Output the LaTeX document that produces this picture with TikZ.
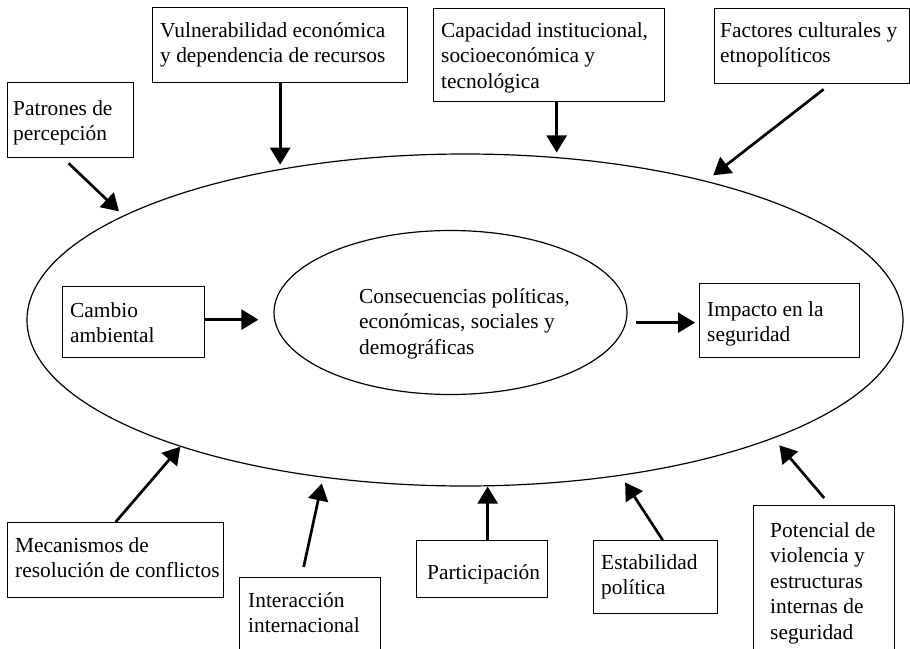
\documentclass[tikz,border=0pt]{standalone}
\usepackage{fontspec}
\setmainfont{Liberation Serif}
\usetikzlibrary{arrows.meta,shapes.geometric}
\begin{document}
\begin{tikzpicture}[x=1pt,y=-1pt,
  boxst/.style={draw, line width=1.3pt, rectangle, anchor=north west, inner sep=0pt},
  txt/.style={anchor=north west, inner sep=0pt, align=left, font=\fontsize{21.4pt}{25.5pt}\selectfont},
  arr/.style={line width=2.7pt, -{Triangle[length=17pt,width=20pt]}},
  ring/.style={draw, ellipse, line width=1.2pt, inner sep=0pt}]
\useasboundingbox (0,0) rectangle (910,648);
\clip (0,0) rectangle (910,648);

% ellipses
\node[ring, minimum width=876pt, minimum height=332pt] (outer) at (465,320) {};
\node[ring, minimum width=353pt, minimum height=164pt] (inner) at (450.5,312.5) {};
\node[txt] (innertext) at (359,285) {\rule{0pt}{18pt}Consecuencias políticas,\\económicas, sociales y\\demográficas};

% boxes
\node[boxst, minimum width=126pt, minimum height=75pt] (pat) at (7,82) {};
\node[txt] at ([shift={(6,15)}]pat.north west) {\rule{0pt}{18pt}Patrones de\\percepción};

\node[boxst, minimum width=255pt, minimum height=75pt] (vuln) at (152,7) {};
\node[txt] at ([shift={(8,12)}]vuln.north west) {\rule{0pt}{18pt}Vulnerabilidad económica\\y dependencia de recursos};

\node[boxst, minimum width=231pt, minimum height=93pt] (cap) at (433,8) {};
\node[txt] at ([shift={(8,11)}]cap.north west) {\rule{0pt}{18pt}Capacidad institucional,\\socioeconómica y\\tecnológica};

\node[boxst, minimum width=195pt, minimum height=75pt] (fac) at (714,8) {};
\node[txt] at ([shift={(6,11)}]fac.north west) {\rule{0pt}{18pt}Factores culturales y\\etnopolíticos};

\node[boxst, minimum width=142pt, minimum height=71pt] (cambio) at (62,286) {};
\node[txt] at ([shift={(8,13)}]cambio.north west) {\rule{0pt}{18pt}Cambio\\ambiental};

\node[boxst, minimum width=160pt, minimum height=74pt] (impacto) at (699,283) {};
\node[txt] at ([shift={(8,15)}]impacto.north west) {\rule{0pt}{18pt}Impacto en la\\seguridad};

\node[boxst, minimum width=216pt, minimum height=75pt] (mec) at (7,522) {};
\node[txt] at ([shift={(8,12)}]mec.north west) {\rule{0pt}{18pt}Mecanismos de\\resolución de conflictos};

\node[boxst, minimum width=141pt, minimum height=90pt] (inter) at (239,577) {};
\node[txt] at ([shift={(9,12)}]inter.north west) {\rule{0pt}{18pt}Interacción\\internacional};

\node[boxst, minimum width=131pt, minimum height=57pt] (part) at (416,540) {};
\node[txt] at ([shift={(11,21)}]part.north west) {\rule{0pt}{18pt}Participación};

\node[boxst, minimum width=124pt, minimum height=73pt] (est) at (593,540) {};
\node[txt] at ([shift={(8,11)}]est.north west) {\rule{0pt}{18pt}Estabilidad\\política};

\node[boxst, minimum width=141pt, minimum height=170pt] (pot) at (753,505) {};
\node[txt] at ([shift={(17,14)}]pot.north west) {\rule{0pt}{18pt}Potencial de\\violencia y\\estructuras\\internas de\\seguridad};

% arrows
\draw[arr, shorten >=15pt] ([yshift=2.5pt]cambio.east) -- ([yshift=2.5pt]cambio.east -| inner.west);
\draw[arr, shorten <=8pt, shorten >=4pt] ([yshift=-2pt]impacto.west -| inner.east) -- ([yshift=-2pt]impacto.west);

\draw[arr, shorten >=6pt] ([shift={(-2,5)}]pat.south) -- (outer.163.3);
\draw[arr, shorten >=4.5pt] (vuln.south) -- (vuln.south |- outer.141.06);
\draw[arr, shorten >=4.5pt] ([xshift=7.5pt]cap.south) -- ([xshift=7.5pt]cap.south |- outer.61);
\draw[arr, shorten >=9pt] ([shift={(11.5,5)}]fac.south) -- (outer.30.4);
\draw[arr] (mec.north) -- (outer.204.4);
\draw[arr, shorten >=6pt] ([shift={(-6.5,-10)}]inter.north) -- (outer.228.3);
\draw[arr] ([xshift=5.5pt]part.north) -- ([xshift=5.5pt]part.north |- outer.south);
\draw[arr, shorten >=8pt] ([xshift=7pt]est.north) -- (outer.315.8);
\draw[arr, shorten >=9pt] ([shift={(0,-7)}]pot.north) -- (outer.339.9);
\end{tikzpicture}
\end{document}
